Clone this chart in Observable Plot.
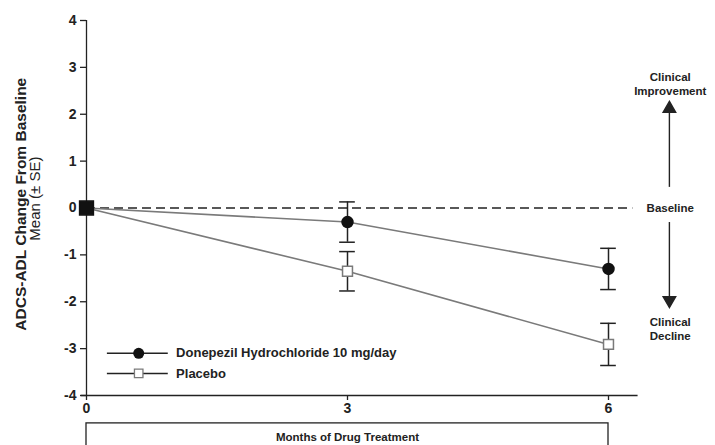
<!DOCTYPE html>
<html>
<head>
<meta charset="utf-8">
<script src="https://cdn.jsdelivr.net/npm/d3@7"></script>
<script src="https://cdn.jsdelivr.net/npm/@observablehq/plot@0.6"></script>
<style>
  html, body { margin: 0; padding: 0; background: #fff; }
  #chart { width: 715px; height: 445px; overflow: hidden; }
</style>
</head>
<body>
<div id="chart"></div>
<script>
// ---- data ----
const months = [0, 3, 6];
const donepezilMean = [0, -0.30, -1.30];
const donepezilSE = [0, 0.43, 0.44];
const placeboMean = [0, -1.35, -2.91];
const placeboSE = [0, 0.42, 0.45];
const seriesNames = ["Donepezil Hydrochloride 10 mg/day", "Placebo"];
const yTicks = [-4, -3, -2, -1, 0, 1, 2, 3, 4];
const xTicks = [0, 3, 6];
const yTitle = "ADCS-ADL Change From Baseline";
const ySubTitle = "Mean (± SE)";
const xTitle = "Months of Drug Treatment";
const annotations = ["Clinical\nImprovement", "Baseline", "Clinical\nDecline"];

const donepezil = months.map((m, i) => ({x: m, y: donepezilMean[i], se: donepezilSE[i]}));
const placebo = months.map((m, i) => ({x: m, y: placeboMean[i], se: placeboSE[i]}));
const errs = [...donepezil, ...placebo].filter(d => d.x > 0);
const cap = 0.09;
const font = "Liberation Sans, Arial, Helvetica, sans-serif";
const ink = "#222";
const lineGray = "#7a7a7a";

const chart = Plot.plot({
  width: 715,
  height: 445,
  marginLeft: 86,
  marginRight: 107,
  marginTop: 20,
  marginBottom: 50,
  style: {fontFamily: font, color: ink, background: "#fff", overflow: "visible"},
  x: {domain: [0, 6]},
  y: {domain: [-4, 4]},
  marks: [
    // axes
    Plot.axisY(yTicks, {tickSize: 6, tickPadding: 4, fontSize: 14, fontWeight: "bold", stroke: ink, fill: ink, label: null, strokeWidth: 1.3, tickFormat: d => String(d)}),
    Plot.axisX(xTicks, {tickSize: 5, tickPadding: 3, fontSize: 14, fontWeight: "bold", stroke: ink, fill: ink, label: null, strokeWidth: 1.3, tickFormat: d => String(d)}),
    Plot.ruleX([0], {y1: -4, y2: 4, stroke: ink, strokeWidth: 1.3}),
    Plot.ruleY([-4], {x1: -0.06, x2: 6.34, stroke: ink, strokeWidth: 1.3}),
    // y titles
    Plot.text([yTitle], {x: -0.75, y: 0.08, rotate: -90, fontSize: 15.5, fontWeight: "bold", fill: ink}),
    Plot.text([ySubTitle], {x: -0.585, y: 0.2, rotate: -90, fontSize: 15, fill: ink}),
    // x title box
    Plot.rect([0], {x1: 0, x2: 6, y1: -4.595, y2: -5.6, fill: "none", stroke: ink, strokeWidth: 1.3}),
    Plot.text([xTitle], {x: 3, y: -4.9, fontSize: 11.5, fontWeight: "bold", fill: ink}),
    // baseline
    Plot.ruleY([0], {x1: 0, x2: 6.28, stroke: ink, strokeWidth: 1.3, strokeDasharray: "9,5"}),
    // lines
    Plot.line(donepezil, {x: "x", y: "y", stroke: lineGray, strokeWidth: 1.6}),
    Plot.line(placebo, {x: "x", y: "y", stroke: lineGray, strokeWidth: 1.6}),
    // error bars
    Plot.ruleX(errs, {x: "x", y1: d => d.y - d.se, y2: d => d.y + d.se, stroke: ink, strokeWidth: 1.5}),
    Plot.ruleY(errs, {y: d => d.y + d.se, x1: d => d.x - cap, x2: d => d.x + cap, stroke: ink, strokeWidth: 1.5}),
    Plot.ruleY(errs, {y: d => d.y - d.se, x1: d => d.x - cap, x2: d => d.x + cap, stroke: ink, strokeWidth: 1.5}),
    // markers
    Plot.dot(donepezil.filter(d => d.x > 0), {x: "x", y: "y", r: 5.5, fill: "#111", stroke: "#111"}),
    Plot.dot(placebo.filter(d => d.x > 0), {x: "x", y: "y", symbol: "square", r: 5.6, fill: "#fff", stroke: lineGray, strokeWidth: 1.5}),
    Plot.dot(donepezil.filter(d => d.x === 0), {x: "x", y: "y", symbol: "square", r: 7.8, fill: "#111", stroke: "#111"}),
    // legend
    Plot.ruleY([-3.10], {x1: 0.24, x2: 0.94, stroke: ink, strokeWidth: 1.5}),
    Plot.dot([0], {x: 0.6, y: -3.10, r: 5.5, fill: "#111"}),
    Plot.text([seriesNames[0]], {x: 1.03, y: -3.10, textAnchor: "start", fontSize: 13, fontWeight: "bold", fill: ink}),
    Plot.ruleY([-3.53], {x1: 0.24, x2: 0.94, stroke: ink, strokeWidth: 1.5}),
    Plot.dot([0], {x: 0.6, y: -3.53, symbol: "square", r: 4.8, fill: "#fff", stroke: lineGray, strokeWidth: 1.3}),
    Plot.text([seriesNames[1]], {x: 1.03, y: -3.53, textAnchor: "start", fontSize: 13, fontWeight: "bold", fill: ink}),
    // right-side annotations
    Plot.text([annotations[0]], {x: 6.71, y: 2.66, fontSize: 11.5, fontWeight: "bold", fill: ink, lineHeight: 1.2}),
    Plot.ruleX([6.70], {y1: 0.44, y2: 2.06, stroke: ink, strokeWidth: 1.4}),
    Plot.dot([0], {x: 6.70, y: 2.12, symbol: "triangle", r: 4.6, fill: ink, stroke: ink}),
    Plot.text([annotations[1]], {x: 6.71, y: 0, fontSize: 11.5, fontWeight: "bold", fill: ink}),
    Plot.ruleX([6.70], {y1: -0.31, y2: -1.9, stroke: ink, strokeWidth: 1.4}),
    Plot.dot([0], {x: 6.70, y: -1.97, symbol: "triangle", rotate: 180, r: 4.6, fill: ink, stroke: ink}),
    Plot.text([annotations[2]], {x: 6.71, y: -2.57, fontSize: 11.5, fontWeight: "bold", fill: ink, lineHeight: 1.2})
  ]
});
document.getElementById("chart").appendChild(chart);
</script>
</body>
</html>
